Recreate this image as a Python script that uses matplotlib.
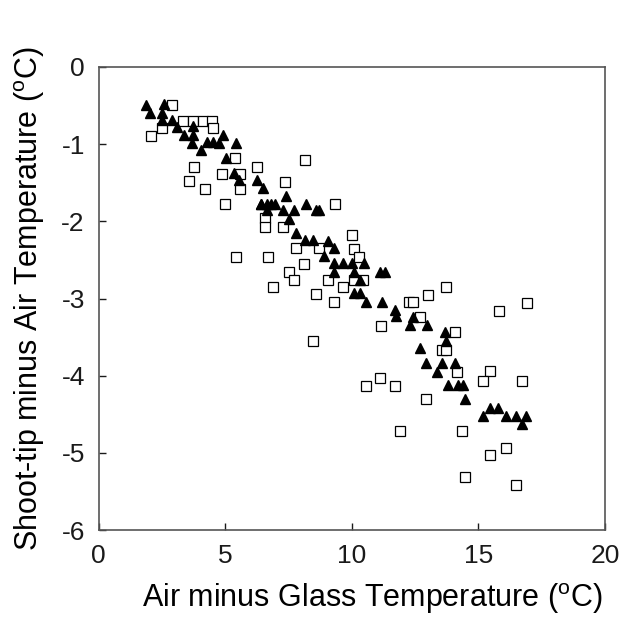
import matplotlib
matplotlib.use("Agg")
import matplotlib.pyplot as plt

plt.rcParams["font.family"] = ["Liberation Sans", "DejaVu Sans"]
plt.rcParams["mathtext.fontset"] = "custom"
plt.rcParams["mathtext.rm"] = "Liberation Sans"
plt.rcParams["axes.unicode_minus"] = False

# open squares
sq_x = [2.89, 3.32, 3.74, 4.11, 4.47, 2.50, 4.51, 2.07, 5.39, 3.78, 6.27, 4.86, 5.58,
        3.55, 4.20, 5.58, 4.99, 6.57, 6.57, 8.14, 7.35, 9.33, 7.28, 9.99, 7.81, 8.71,
        10.08, 10.29, 5.44, 6.69, 8.11, 7.52, 7.72, 9.06, 10.08, 10.45, 9.66, 6.89,
        8.58, 9.29, 13.02, 13.72, 12.26, 12.42, 12.69, 11.17, 14.07, 8.45, 13.58, 13.72,
        14.14, 11.11, 10.58, 11.70, 12.95, 15.81, 16.91, 15.48, 15.19, 16.71, 14.37,
        16.09, 15.48, 14.49, 16.48, 11.89]
sq_y = [-0.49, -0.70, -0.70, -0.70, -0.70, -0.79, -0.79, -0.89, -1.18, -1.29, -1.29, -1.39, -1.39,
        -1.48, -1.58, -1.58, -1.77, -1.96, -2.07, -1.20, -1.49, -1.78, -2.07, -2.18, -2.35, -2.35,
        -2.36, -2.46, -2.46, -2.46, -2.55, -2.65, -2.76, -2.76, -2.76, -2.76, -2.85, -2.85,
        -2.94, -3.05, -2.95, -2.85, -3.05, -3.05, -3.24, -3.36, -3.44, -3.55, -3.67, -3.67,
        -3.95, -4.03, -4.13, -4.13, -4.30, -3.16, -3.06, -3.94, -4.07, -4.07, -4.72,
        -4.93, -5.03, -5.31, -5.41, -4.72]

# filled triangles
tri_x = [1.87, 2.56, 2.03, 2.49, 2.49, 2.89, 3.08, 3.74, 3.35, 3.74, 3.68, 4.03, 4.27,
         4.53, 4.77, 4.90, 5.41, 5.03, 5.35, 5.56, 6.27, 6.51, 6.40, 7.39, 6.43, 6.63,
         6.82, 6.96, 6.63, 7.28, 7.72, 7.52, 8.18, 8.58, 8.71, 7.79, 8.14, 8.45, 9.04,
         9.29, 8.89, 9.29, 9.66, 10.01, 10.47, 9.29, 10.08, 10.32, 10.08, 10.32, 10.58,
         11.11, 11.30, 11.21, 11.70, 11.74, 12.40, 12.29, 12.98, 13.68, 13.72, 12.69,
         12.95, 13.58, 14.07, 13.37, 13.81, 14.21, 14.40, 14.47, 15.48, 15.78, 15.19,
         16.09, 16.48, 16.88, 16.71]
tri_y = [-0.49, -0.48, -0.59, -0.59, -0.69, -0.69, -0.78, -0.76, -0.88, -0.88, -0.98, -1.08, -0.97,
         -0.97, -0.98, -0.88, -0.98, -1.18, -1.37, -1.46, -1.46, -1.57, -1.77, -1.67, -1.77, -1.77,
         -1.77, -1.77, -1.85, -1.85, -1.85, -1.97, -1.77, -1.85, -1.85, -2.15, -2.24, -2.24, -2.25,
         -2.35, -2.45, -2.54, -2.54, -2.54, -2.54, -2.65, -2.65, -2.76, -2.93, -2.93, -3.04,
         -2.65, -2.65, -3.05, -3.15, -3.23, -3.24, -3.34, -3.34, -3.44, -3.55, -3.64,
         -3.84, -3.84, -3.84, -3.95, -4.12, -4.12, -4.12, -4.30, -4.42, -4.42, -4.52,
         -4.52, -4.52, -4.52, -4.62]

xticks = [0, 5, 10, 15, 20]
yticks = [0, -1, -2, -3, -4, -5, -6]

fig = plt.figure(figsize=(6.21, 6.2), dpi=100)
ax = fig.add_axes([0.159, 0.145, 0.815, 0.747])

ax.plot(sq_x, sq_y, linestyle="none", marker="s", markersize=6.5,
        markerfacecolor="white", markeredgecolor="black", markeredgewidth=0.9)
ax.plot(tri_x, tri_y, linestyle="none", marker="^", markersize=7.5,
        markerfacecolor="black", markeredgecolor="black")

ax.set_xlim(0, 20)
ax.set_ylim(-6, 0)
ax.set_xticks(xticks)
ax.set_yticks(yticks)
ax.tick_params(direction="in", length=5, width=1, labelsize=19, pad=10, colors="#1a1a1a")
for s in ax.spines.values():
    s.set_color("#555555")
    s.set_linewidth(1.2)

ax.set_xlabel("Air minus Glass Temperature ($^{\\rm o}$C)", fontsize=22)
ax.xaxis.set_label_coords(0.54, -0.11)
ax.set_ylabel("Shoot-tip minus Air Temperature ($^{\\rm o}$C)", fontsize=22, labelpad=10)

fig.savefig("out.png", dpi=100)
